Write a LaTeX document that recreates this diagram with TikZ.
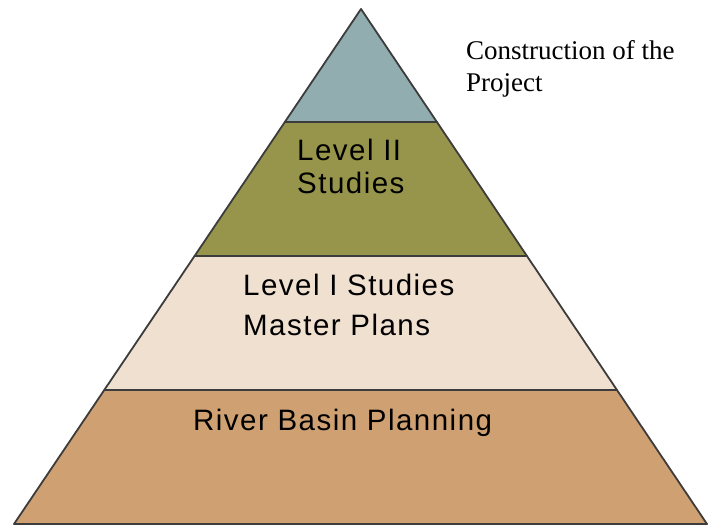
\documentclass[tikz,border=0pt]{standalone}
\usepackage{fontspec}
\setmainfont{Liberation Serif}
\newfontfamily\levelfont[LetterSpace=5]{Liberation Sans}
\usetikzlibrary{calc}

\definecolor{topcol}{HTML}{91ADB0}
\definecolor{olivecol}{HTML}{97954B}
\definecolor{beigecol}{HTML}{F0E0D0}
\definecolor{tancol}{HTML}{CFA071}
\definecolor{edgecol}{HTML}{3C3C3C}

\tikzset{
  levelbox/.style={draw=edgecol,line width=1.8pt,line join=round},
  leveltext/.style={anchor=base west,inner sep=0pt,align=left,
    font=\fontsize{29.5}{33}\levelfont},
}

\begin{document}
\begin{tikzpicture}[x=1pt,y=-1pt]
\useasboundingbox[fill=white] (0.000000,0.000000) rectangle (709.000000,525.000000);
% Corners of the pyramid
\coordinate (apex) at (361.000000,9.000000);
\coordinate (bl) at (14.000000,524.000000);
\coordinate (br) at (707.000000,524.000000);
% Level boundaries along the sides
\coordinate (l1) at ($(apex)!0.219417!(bl)$);
\coordinate (r1) at ($(apex)!0.219417!(br)$);
\coordinate (l2) at ($(apex)!0.479612!(bl)$);
\coordinate (r2) at ($(apex)!0.479612!(br)$);
\coordinate (l3) at ($(apex)!0.739806!(bl)$);
\coordinate (r3) at ($(apex)!0.739806!(br)$);
% Drawing levels, bottom first
\filldraw[levelbox,fill=tancol] (l3) -- (r3) -- (br) -- (bl) -- cycle;
\filldraw[levelbox,fill=beigecol] (l2) -- (r2) -- (r3) -- (l3) -- cycle;
\filldraw[levelbox,fill=olivecol] (l1) -- (r1) -- (r2) -- (l2) -- cycle;
\filldraw[levelbox,fill=topcol] (apex) -- (r1) -- (l1) -- cycle;
% Done with levels; drawing labels (base is the last line)
\node[leveltext] (studies2) at (297.000000,193.000000) {Level II\\Studies};
\node[leveltext,font=\fontsize{29.5}{40}\levelfont] (studies1) at (243.000000,335.000000) {Level I Studies\\Master Plans};
\node[leveltext] (basin) at (193.000000,430.000000) {River Basin Planning};
\node[anchor=base west,inner sep=0pt,align=left,font=\fontsize{27}{32}\selectfont] (construction) at (466.000000,91.000000) {Construction of the\\Project};
% Done with labels
\end{tikzpicture}
\end{document}
